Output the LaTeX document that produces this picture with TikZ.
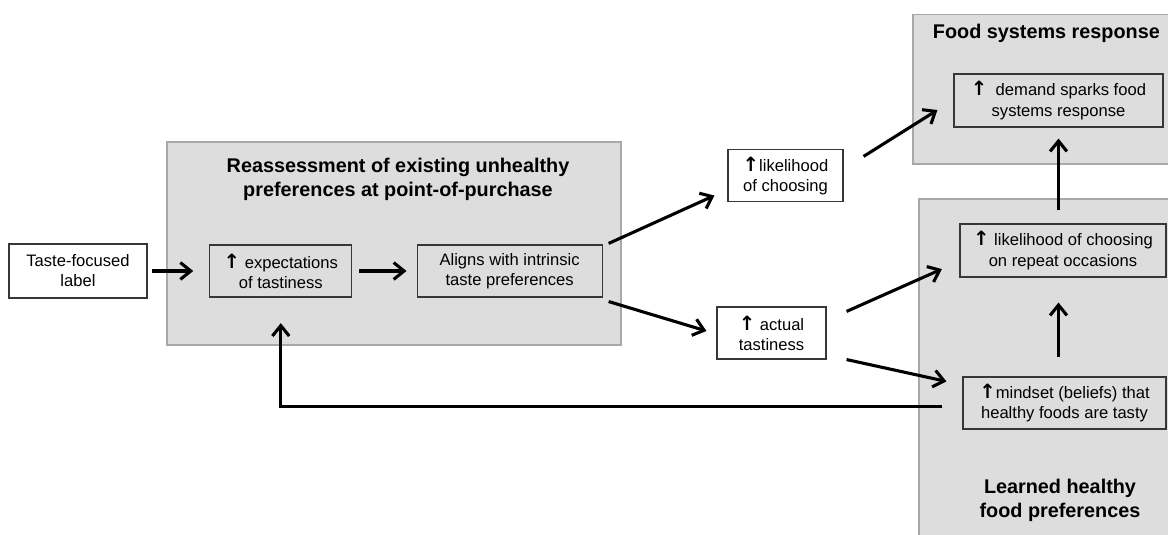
\documentclass[tikz,border=0pt]{standalone}
\usepackage{fontspec}
\setmainfont{Liberation Sans}
\newfontfamily\arrowfont{DejaVu Sans}
\usetikzlibrary{arrows.meta,calc,positioning}
\definecolor{panelgray}{RGB}{221,221,221}
\definecolor{paneledge}{RGB}{168,168,168}
\definecolor{boxedge}{RGB}{55,55,55}
\newcommand{\uparr}{{\arrowfont\bfseries\fontsize{14}{14}\selectfont ↑}}

\begin{document}
\begin{tikzpicture}[
    panel/.style={fill=panelgray, draw=paneledge, line width=0.8pt, inner sep=0pt},
    panel title/.style={font=\bfseries\fontsize{14.1}{17}\selectfont, align=center},
    factor/.style={draw=boxedge, line width=0.8pt, align=center, inner sep=2pt,
        font=\fontsize{11.8}{14.3}\selectfont},
    flow/.style={-{Straight Barb[length=2.6mm, width=4.2mm]}, line width=2.2pt}
]

% Frame
\useasboundingbox (0,0) rectangle (29.2,13.375);

% === Panels ===
\node[panel, minimum width=11.35cm, minimum height=5.075cm] (reassess) at (9.85,7.2875) {};
\node[panel, minimum width=6.775cm, minimum height=3.7375cm] (foodsys) at (26.2125,11.14375) {};
\node[panel, minimum width=6.625cm, minimum height=8.8cm] (learned) at (26.2875,4.0) {};

\node[panel title] (reassess title) at (9.95,8.9) {Reassessment of existing unhealthy\\preferences at point-of-purchase};
\node[panel title] (foodsys title) at (26.16,12.55) {Food systems response};
\node[panel title] (learned title) at (26.5,0.8625) {Learned healthy\\food preferences};

% === Boxes ===
\node[factor, minimum width=3.45cm, minimum height=1.35cm] (label) at (1.95,6.6) {Taste-focused\\label};
\node[factor, minimum width=3.55cm, minimum height=1.3cm] (expect) at (7.02,6.6) {\uparr{} expectations\\of tastiness};
\node[factor, minimum width=4.625cm, minimum height=1.3cm] (aligns) at (12.74,6.6) {Aligns with intrinsic\\taste preferences};
\node[factor, minimum width=2.875cm, minimum height=1.3cm] (likely) at (19.6375,8.98) {\uparr{}likelihood\\of choosing};
\node[factor, minimum width=2.725cm, minimum height=1.3cm] (actual) at (19.2875,5.05) {\uparr{} actual\\tastiness};
\node[factor, minimum width=5.225cm, minimum height=1.325cm] (demand) at (26.4625,10.8625) {\uparr\enspace demand sparks food\\systems response};
\node[factor, minimum width=5.15cm, minimum height=1.325cm] (repeat) at (26.575,7.1125) {\uparr{} likelihood of choosing\\on repeat occasions};
\node[factor, minimum width=5.075cm, minimum height=1.3cm] (mindset) at (26.6125,3.3) {\uparr{}mindset (beliefs) that\\healthy foods are tasty};

% === Arrows ===
\draw[flow, shorten <=0.1cm, shorten >=0.4cm] (label.east) -- (expect.west);
\draw[flow, shorten <=0.175cm, shorten >=0.25cm] (expect.east) -- (aligns.west);
\draw[flow] ($(aligns.north east)+(0.15,0.025)$) -- ($(likely.south west)+(-0.325,0.17)$);
\draw[flow] ($(aligns.south east)+(0.15,-0.1)$) -- ($(actual.west)+(-0.25,0.05)$);
\draw[flow] ($(likely.north east)+(0.5,-0.18)$) -- ($(demand.west)+(-0.4,-0.2375)$);
\draw[flow] ($(actual.north east)+(0.5,-0.125)$) -- ($(repeat.south west)+(-0.4375,0.2125)$);
\draw[flow] ($(actual.south east)+(0.5,0)$) -- ($(mindset.north west)+(-0.4,-0.125)$);
\draw[flow, shorten <=0.33cm, shorten >=0.275cm] (repeat.north -| demand.south) -- (demand.south);
\draw[flow, shorten <=0.475cm, shorten >=0.625cm] (mindset.north -| demand.south) -- (repeat.south -| demand.south);

% Feedback loop
\draw[flow, shorten >=0.64cm] ($(mindset.west)+(-0.5,-0.09)$) -| (expect.south);

\end{tikzpicture}
\end{document}
